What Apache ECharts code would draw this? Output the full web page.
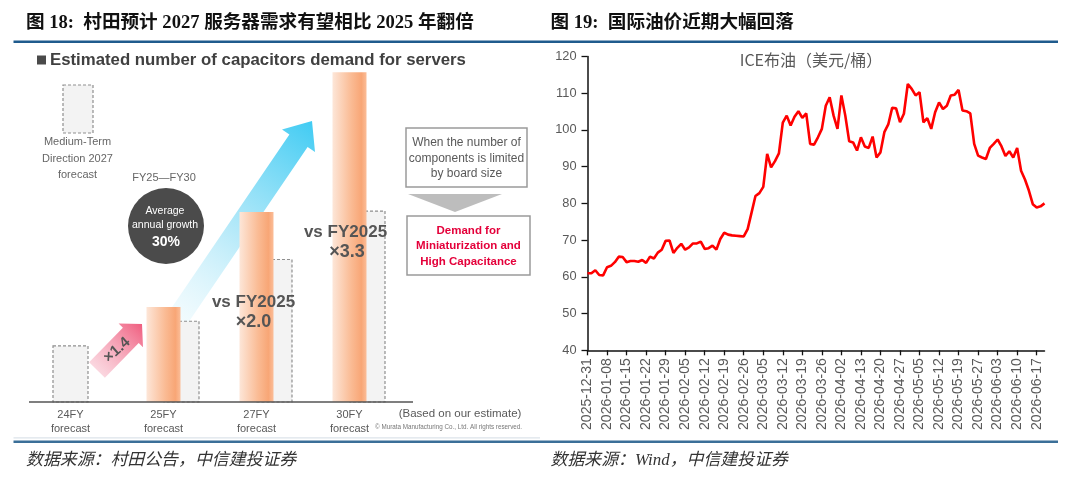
<!DOCTYPE html>
<html><head><meta charset="utf-8">
<script src="https://cdn.jsdelivr.net/npm/echarts@6/dist/echarts.min.js"></script>
<style>html,body{margin:0;padding:0;background:#fff}#c{width:1080px;height:484px}</style>
</head><body><div id="c"></div>
<script>
// ---------- data: right panel (ICE Brent, USD/bbl) ----------
const dates = ['2025-12-31','2026-01-02','2026-01-05','2026-01-06','2026-01-07','2026-01-08','2026-01-09','2026-01-12','2026-01-13','2026-01-14','2026-01-15','2026-01-16','2026-01-19','2026-01-20','2026-01-21','2026-01-22','2026-01-23','2026-01-26','2026-01-27','2026-01-28','2026-01-29','2026-01-30','2026-02-02','2026-02-03','2026-02-04','2026-02-05','2026-02-06','2026-02-09','2026-02-10','2026-02-11','2026-02-12','2026-02-13','2026-02-16','2026-02-17','2026-02-18','2026-02-19','2026-02-20','2026-02-23','2026-02-24','2026-02-25','2026-02-26','2026-02-27','2026-03-02','2026-03-03','2026-03-04','2026-03-05','2026-03-06','2026-03-09','2026-03-10','2026-03-11','2026-03-12','2026-03-13','2026-03-16','2026-03-17','2026-03-18','2026-03-19','2026-03-20','2026-03-23','2026-03-24','2026-03-25','2026-03-26','2026-03-27','2026-03-30','2026-03-31','2026-04-01','2026-04-02','2026-04-07','2026-04-08','2026-04-09','2026-04-10','2026-04-13','2026-04-14','2026-04-15','2026-04-16','2026-04-17','2026-04-20','2026-04-21','2026-04-22','2026-04-23','2026-04-24','2026-04-27','2026-04-28','2026-04-29','2026-04-30','2026-05-01','2026-05-05','2026-05-06','2026-05-07','2026-05-08','2026-05-11','2026-05-12','2026-05-13','2026-05-14','2026-05-15','2026-05-18','2026-05-19','2026-05-20','2026-05-21','2026-05-22','2026-05-26','2026-05-27','2026-05-28','2026-05-29','2026-06-01','2026-06-02','2026-06-03','2026-06-04','2026-06-05','2026-06-08','2026-06-09','2026-06-10','2026-06-11','2026-06-12','2026-06-15','2026-06-16','2026-06-17','2026-06-18','2026-06-19'];
const brent = [61.0,61.0,61.8,60.5,60.4,62.6,63.0,64.0,65.5,65.4,64.0,64.3,64.3,64.1,64.6,63.8,65.5,65.0,66.6,67.4,
69.8,69.9,66.5,67.9,69.0,67.4,68.0,69.1,69.1,69.6,67.6,67.8,68.5,67.4,70.3,72.0,71.5,71.3,71.2,71.1,
71.0,73.0,77.5,82.0,82.8,84.5,93.5,89.8,91.5,93.6,102.0,103.9,101.2,103.6,105.1,103.3,104.5,96.2,96.0,98.0,
100.3,106.6,108.9,103.9,100.3,109.4,103.9,96.9,96.6,94.4,98.0,95.5,95.1,98.2,92.5,93.9,99.4,101.5,106.0,105.9,
102.1,104.4,112.5,111.2,109.4,110.3,102.1,103.2,100.3,104.8,107.5,105.7,106.6,109.4,109.6,110.9,105.3,105.1,104.5,96.2,
93.0,92.5,92.1,95.1,96.2,97.4,95.5,92.9,94.2,92.5,95.1,88.9,86.5,83.5,79.8,78.9,79.2,80.0];
const brentMin = 40, brentMax = 120, brentStep = 10;

// ---------- data: left panel (capacitor demand, index FY25 = 100) ----------
const capCategories = ['24FY\nforecast','25FY\nforecast','27FY\nforecast','30FY\nforecast'];
const capCurrent  = [null, 100, 200, 347];   // current estimate (orange)
const capMidTerm  = [59, 85, 150, 201];      // Medium-Term Direction 2027 forecast (dashed)

// ---------- helpers ----------
const SANS = '"Liberation Sans", Arial, sans-serif';
const CJK = '"Noto Sans CJK SC", sans-serif';
const HEAD = '"Liberation Serif", "Noto Sans CJK SC", serif';
function T(x, y, text, font, fill, align, extra) {
  return Object.assign({ type: 'text', z: 20, silent: true,
    style: { text: text, x: x, y: y, font: font, fill: fill, textAlign: align || 'center', textVerticalAlign: 'middle' } }, extra || {});
}
const G = echarts.graphic;

const chart = echarts.init(document.getElementById('c'), null, { renderer: 'canvas' });

const graphics = [
  // headers
  T(26, 23.5, '图 18:  村田预计 2027 服务器需求有望相比 2025 年翻倍', 'bold 18.6px ' + HEAD, '#111', 'left'),
  T(550.5, 23.5, '图 19:  国际油价近期大幅回落', 'bold 18.6px ' + HEAD, '#111', 'left'),
  { type: 'rect', z: 20, shape: { x: 13.5, y: 40.5, width: 1044.5, height: 2.6 }, style: { fill: '#1f5b8d' } },
  { type: 'rect', z: 20, shape: { x: 13.5, y: 440.6, width: 1044.5, height: 2.4 }, style: { fill: '#3b6f98' } },
  { type: 'rect', z: 20, shape: { x: 13.5, y: 437.3, width: 526.5, height: 1.3 }, style: { fill: '#dce3ea' } },
  T(26, 461, '数据来源：村田公告，中信建投证券', 'italic 16.9px ' + HEAD, '#333', 'left'),
  T(550.5, 461, '数据来源：Wind，中信建投证券', 'italic 16.9px ' + HEAD, '#333', 'left'),

  // left panel title
  { type: 'rect', z: 20, shape: { x: 37, y: 55.5, width: 9, height: 9 }, style: { fill: '#4a4a4a' } },
  T(50, 60, 'Estimated number of capacitors demand for servers', 'bold 16.8px ' + SANS, '#404040', 'left'),

  // legend (dashed)
  { type: 'rect', z: 20, shape: { x: 63, y: 85, width: 30, height: 48 }, style: { fill: '#f3f3f3', stroke: '#8f8f8f', lineWidth: 1.2, lineDash: [3, 2] } },
  T(77.5, 142, 'Medium-Term', '11px ' + SANS, '#666'),
  T(77.5, 158.5, 'Direction 2027', '11px ' + SANS, '#666'),
  T(77.5, 175, 'forecast', '11px ' + SANS, '#666'),

  // growth badge
  T(164, 178, 'FY25\u2014FY30', '11px ' + SANS, '#666'),
  { type: 'circle', z: 20, shape: { cx: 166, cy: 226, r: 38 }, style: { fill: '#4b4b4b' } },
  T(165, 211, 'Average', '10.5px ' + SANS, '#fff'),
  T(165, 225, 'annual growth', '10.5px ' + SANS, '#fff'),
  T(166, 242, '30%', 'bold 14px ' + SANS, '#fff'),

  // blue growth arrow (behind bars)
  { type: 'polygon', z: 1, silent: true,
    shape: { points: [[168.9,311.8],[187.1,324.2],[307.6,147.0],[315.0,152.0],[312,121],[282.0,129.6],[289.4,134.6]] },
    style: { fill: new G.LinearGradient(0, 1, 1, 0, [
      { offset: 0, color: 'rgba(225,246,252,0.35)' },
      { offset: 0.45, color: 'rgba(170,230,248,0.85)' },
      { offset: 1, color: '#3fcbf3' }]) } },

  // pink x1.4 arrow
  { type: 'polygon', z: 20, silent: true,
    shape: { points: [[89.1,362.3],[104.9,377.7],[138.7,343.1],[143.0,347.3],[142,324],[118.6,323.5],[122.9,327.7]] },
    style: { fill: new G.LinearGradient(0, 1, 1, 0, [
      { offset: 0, color: 'rgba(249,205,216,0.55)' },
      { offset: 1, color: '#ef5b7d' }]) } },
  T(0, 0, '\u00d71.4', 'bold 15px ' + SANS, '#555', 'center', { x: 117, y: 350, rotation: 0.72 }),

  // multiples
  T(253.5, 302, 'vs FY2025', 'bold 17px ' + SANS, '#555'),
  T(253.5, 322.5, '\u00d72.0', 'bold 18px ' + SANS, '#555'),
  T(345.5, 232, 'vs FY2025', 'bold 17px ' + SANS, '#555'),
  T(347, 252, '\u00d73.3', 'bold 18px ' + SANS, '#555'),

  // right boxes
  { type: 'rect', z: 20, shape: { x: 406, y: 128, width: 121, height: 59 }, style: { fill: '#fff', stroke: '#9a9a9a', lineWidth: 1.5 } },
  T(466.5, 143, 'When the number of', '12px ' + SANS, '#595959'),
  T(466.5, 158.5, 'components is limited', '12px ' + SANS, '#595959'),
  T(466.5, 174, 'by board size', '12px ' + SANS, '#595959'),
  { type: 'polygon', z: 20, shape: { points: [[408, 194], [502, 194], [455, 212]] }, style: { fill: '#bdbdbd' } },
  { type: 'rect', z: 20, shape: { x: 407, y: 216, width: 123, height: 59 }, style: { fill: '#fff', stroke: '#9a9a9a', lineWidth: 1.5 } },
  T(468.5, 230.5, 'Demand for', 'bold 11.5px ' + SANS, '#e4003a'),
  T(468.5, 245.5, 'Miniaturization and', 'bold 11.5px ' + SANS, '#e4003a'),
  T(468.5, 261.5, 'High Capacitance', 'bold 11.5px ' + SANS, '#e4003a'),

  // baseline and notes
  { type: 'line', z: 20, shape: { x1: 29, y1: 402, x2: 413, y2: 402 }, style: { stroke: '#555', lineWidth: 1.6 } },
  T(460, 413.5, '(Based on our estimate)', '11.5px ' + SANS, '#595959'),
  T(375, 427, '\u00a9 Murata Manufacturing Co., Ltd. All rights reserved.', '6.3px ' + SANS, '#777', 'left'),

  // right chart title
  T(811, 59.6, 'ICE布油（美元/桶）', '16px ' + CJK, '#595959')
];

const orangeFill = new G.LinearGradient(0, 0, 1, 0, [
  { offset: 0, color: '#fde6d8' },
  { offset: 0.55, color: '#fabb94' },
  { offset: 0.85, color: '#f8a676' },
  { offset: 1, color: '#fbbd98' }]);

const option = {
  animation: false,
  backgroundColor: '#fff',
  grid: [
    { left: 24, right: 684, top: 22, bottom: 82 },
    { left: 587.5, right: 35.5, top: 56.5, bottom: 133.7 }
  ],
  xAxis: [
    { gridIndex: 0, type: 'category', data: capCategories, boundaryGap: true,
      axisLine: { show: false }, axisTick: { show: false }, splitLine: { show: false },
      axisLabel: { color: '#595959', fontSize: 11, fontFamily: SANS, lineHeight: 14, margin: 6 } },
    { gridIndex: 1, type: 'category', data: dates, boundaryGap: false,
      axisLine: { show: true, lineStyle: { color: '#111', width: 1.5 } },
      axisTick: { show: true, interval: 4, length: 5, lineStyle: { color: '#111', width: 1.3 } },
      axisLabel: { interval: 4, rotate: 90, color: '#595959', fontSize: 14, fontFamily: SANS, margin: 8 },
      splitLine: { show: false } }
  ],
  yAxis: [
    { gridIndex: 0, type: 'value', min: 0, max: 400, show: false },
    { gridIndex: 1, type: 'value', min: brentMin, max: brentMax, interval: brentStep,
      axisLine: { show: true, lineStyle: { color: '#111', width: 1.5 } },
      axisTick: { show: true, length: 6, lineStyle: { color: '#111', width: 1.3 } },
      axisLabel: { color: '#595959', fontSize: 12.8, fontFamily: SANS, margin: 11 },
      splitLine: { show: false } }
  ],
  series: [
    { type: 'custom', xAxisIndex: 0, yAxisIndex: 0, z: 5, silent: true, clip: false,
      data: capCategories.map(function (c, i) { return [i, capCurrent[i] == null ? 0 : capCurrent[i], capMidTerm[i]]; }),
      encode: { x: 0, y: [1, 2] },
      renderItem: function (params, api) {
        const i = params.dataIndex;
        const base = api.coord([api.value(0), 0]);
        const cx = base[0], by = base[1];
        const hasCur = capCurrent[i] != null;
        const mtTop = api.coord([api.value(0), api.value(2)])[1];
        const mtX = hasCur ? cx + 18 - 17.5 : cx - 17.5;
        const children = [{ type: 'rect', shape: { x: mtX, y: mtTop, width: 35, height: by - mtTop },
          style: { fill: '#f3f3f3', stroke: '#8f8f8f', lineWidth: 1.2, lineDash: [3, 2] } }];
        if (hasCur) {
          const top = api.coord([api.value(0), api.value(1)])[1];
          children.push({ type: 'rect', shape: { x: cx - 17, y: top, width: 34, height: by - top },
            style: { fill: orangeFill } });
        }
        return { type: 'group', children: children };
      } },
    { type: 'line', xAxisIndex: 1, yAxisIndex: 1, data: brent, showSymbol: false, symbol: 'none',
      lineStyle: { color: '#ff0000', width: 2.6 }, z: 3, silent: true }
  ],
  graphic: { elements: graphics }
};
chart.setOption(option);
</script></body></html>
